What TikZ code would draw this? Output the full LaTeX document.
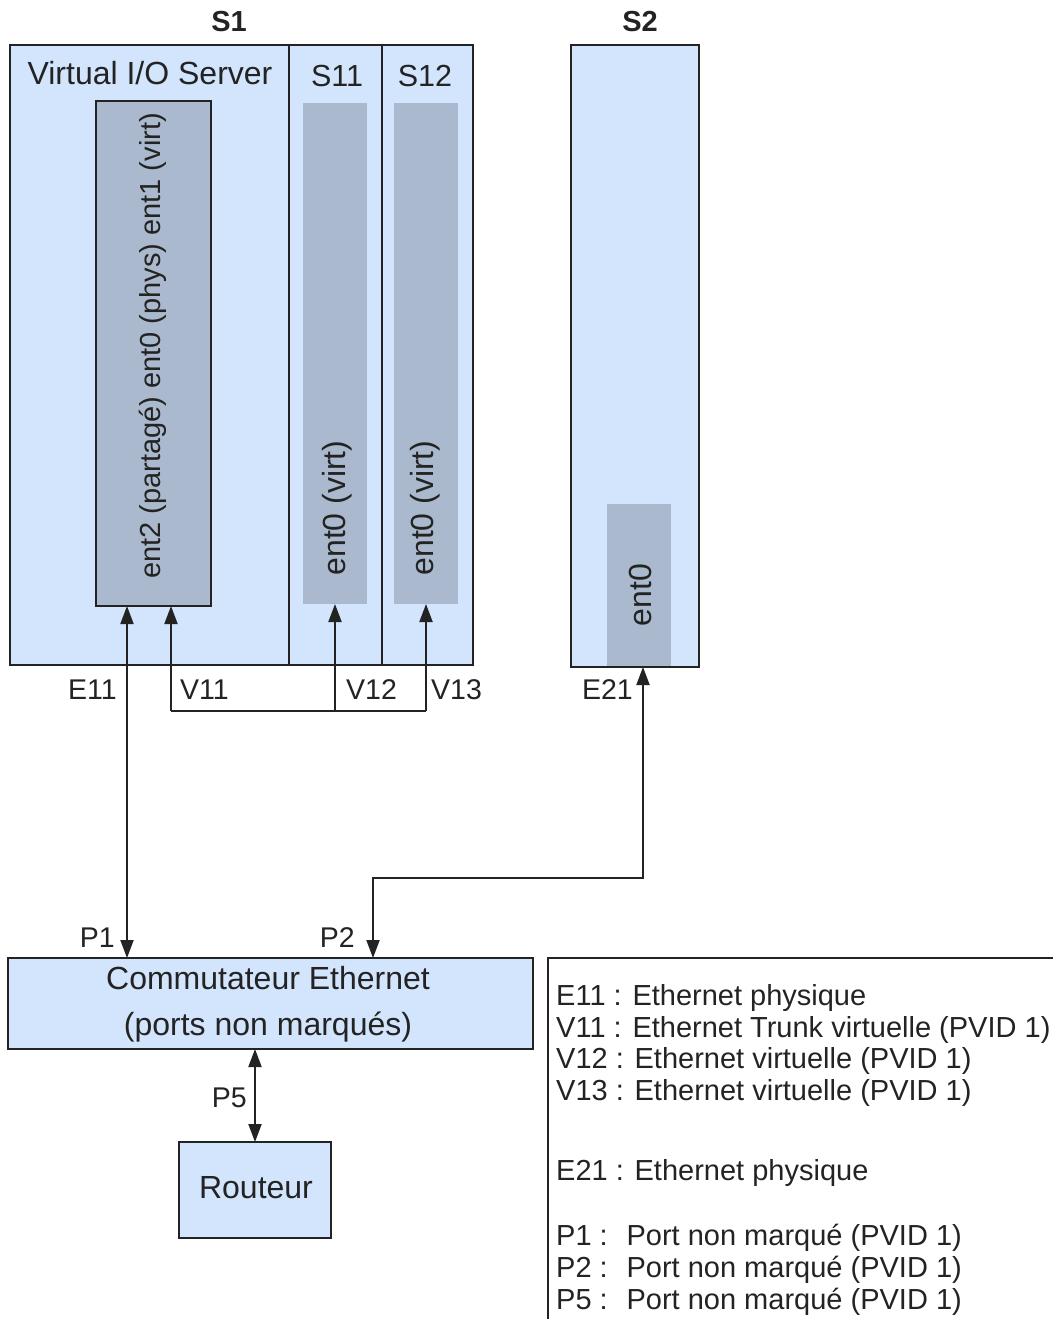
\documentclass[tikz,border=0pt]{standalone}
\usepackage{fontspec}
\setmainfont{Liberation Sans}
\usetikzlibrary{arrows.meta,calc}
\definecolor{lblue}{RGB}{210,229,252}
\definecolor{gbox}{RGB}{170,185,205}
\definecolor{ink}{RGB}{35,35,35}
\begin{document}
\begin{tikzpicture}[x=1pt,y=-1pt,
  box/.style={draw=ink, line width=2pt, fill=lblue, inner sep=0pt, outer sep=0pt},
  card/.style={fill=gbox, inner sep=0pt, outer sep=0pt},
  lbl/.style={font=\fontsize{28.5}{34}\selectfont, text=ink, inner sep=0pt},
  leg/.style={font=\fontsize{29}{34}\selectfont, text=ink, inner sep=0pt, anchor=base west},
  mid/.style={font=\fontsize{30.5}{36}\selectfont, text=ink, inner sep=0pt},
  big/.style={font=\fontsize{32}{38}\selectfont, text=ink, inner sep=0pt},
  ttl/.style={font=\fontsize{29}{34}\selectfont\bfseries, text=ink, inner sep=0pt},
  tip/.tip={Triangle[length=18pt,width=13pt]},
  arr/.style={draw=ink, line width=2pt, -tip},
  dbl/.style={draw=ink, line width=2pt, tip-tip},
  wire/.style={draw=ink, line width=2pt}]
\useasboundingbox (0,0) rectangle (1052,1319);

% titles
\node[ttl] (t1) at (229,22) {S1};
\node[ttl] (t2) at (640,22) {S2};

% S1 partitions
\node[box, minimum width=279pt, minimum height=620pt] (vios) at (149.5,355) {};
\node[box, minimum width=93pt, minimum height=620pt] (s11) at (335.5,355) {};
\node[box, minimum width=91pt, minimum height=620pt] (s12) at (427.5,355) {};
\node[big] (viostxt) at (150,73) {Virtual I/O Server};
\node[mid] (s11txt) at (337,76) {S11};
\node[mid] (s12txt) at (425,76) {S12};

% S2
\node[box, minimum width=128pt, minimum height=622pt] (s2) at (635,356) {};

% inner cards
\node[card, draw=ink, line width=2pt, minimum width=115pt, minimum height=505pt] (vcard) at (153.5,353.5) {};
\node[lbl, font=\fontsize{29}{34}\selectfont, rotate=90] (vcardtxt) at (153,346) {ent2 (partagé) ent0 (phys) ent1 (virt)};
\node[card, minimum width=64pt, minimum height=501pt] (s11e) at (335,353.5) {};
\node[big, rotate=90] (s11etxt) at (337,508) {ent0 (virt)};
\node[card, minimum width=64pt, minimum height=501pt] (s12e) at (426,353.5) {};
\node[big, rotate=90] (s12etxt) at (425,508) {ent0 (virt)};
\node[card, minimum width=64pt, minimum height=162pt] (s2e) at (639,585) {};
\node[big, rotate=90] (s2etxt) at (640,595) {ent0};

% switch and router
\node[box, minimum width=525pt, minimum height=91pt] (sw) at (270.5,1003.5) {};
\node[big] (swt1) at (268,978) {Commutateur Ethernet};
\node[big] (swt2) at (268,1027) {(ports non marqués)};
\node[box, minimum width=152pt, minimum height=96pt] (rt) at (255,1190) {};
\node[big] (rttxt) at (256,1188) {Routeur};

% connectors
\coordinate (e11) at ([xshift=31pt]vcard.south west);
\coordinate (v11) at ([xshift=75pt]vcard.south west);
\coordinate (bus) at (0,711);
\coordinate (p2) at ([xshift=365pt]sw.north west);
\coordinate (e21) at ([xshift=8pt]s2.south);
\coordinate (turn) at (0,878);

\draw[dbl] (e11 |- sw.north) -- (e11);
\draw[arr] (v11 |- bus) -- (v11);
\draw[wire] (v11 |- bus) -- (s12e.south |- bus);
\draw[arr] (s11e.south |- bus) -- (s11e.south);
\draw[arr] (s12e.south |- bus) -- (s12e.south);
\draw[dbl] (p2) -- (p2 |- turn) -| (e21);
\draw[dbl] (sw.south -| rt.north) -- (rt.north);

% connector labels
\node[lbl, anchor=east] (le11) at (117,690) {E11};
\node[lbl, anchor=west] (lv11) at (180,690) {V11};
\node[lbl, anchor=west] (lv12) at (346,690) {V12};
\node[lbl, anchor=west] (lv13) at (431,690) {V13};
\node[lbl, anchor=east] (le21) at (633,690) {E21};
\node[lbl, anchor=east] (lp1) at (115,938) {P1};
\node[lbl, anchor=east] (lp2) at (355,938) {P2};
\node[lbl, anchor=east] (lp5) at (247,1098) {P5};

% legend
\coordinate (legtl) at (548,958);
\draw[draw=ink, line width=1.5pt] (legtl |- 0,1330) -- (legtl) -- (legtl -| 1060,0);
\node[leg] (g1) at (556,1005) {E11 : Ethernet physique};
\node[leg] (g2) at (556,1037) {V11 : Ethernet Trunk virtuelle (PVID 1)};
\node[leg] (g3) at (556,1068) {V12 : Ethernet virtuelle (PVID 1)};
\node[leg] (g4) at (556,1100) {V13 : Ethernet virtuelle (PVID 1)};
\node[leg] (g5) at (556,1180) {E21 : Ethernet physique};
\node[leg] (g6) at (556,1245) {P1 : \ Port non marqué (PVID 1)};
\node[leg] (g7) at (556,1277) {P2 : \ Port non marqué (PVID 1)};
\node[leg] (g8) at (556,1309) {P5 : \ Port non marqué (PVID 1)};
\end{tikzpicture}
\end{document}
